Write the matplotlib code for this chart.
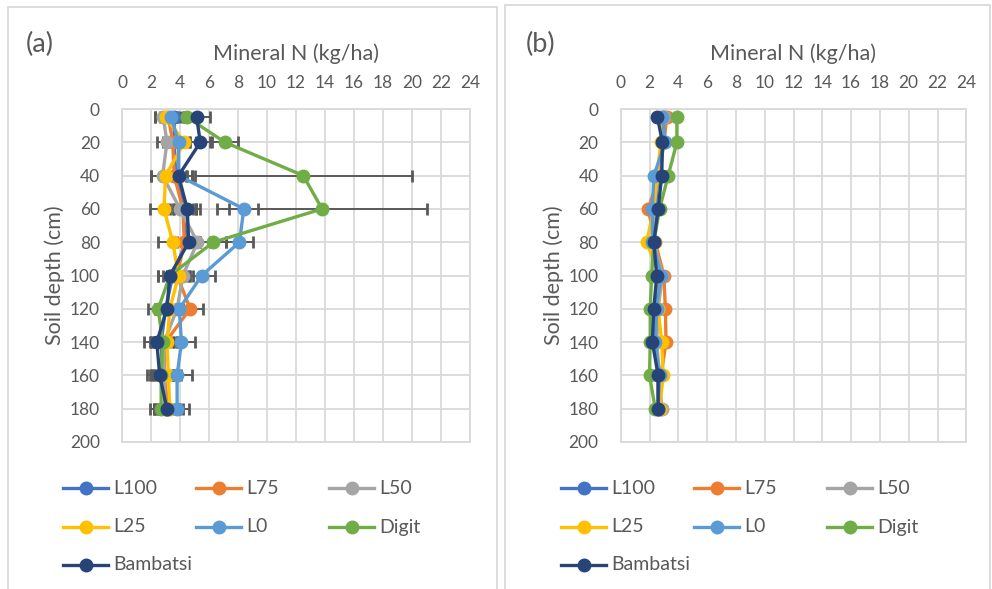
import matplotlib
matplotlib.use("Agg")
import matplotlib.pyplot as plt
from matplotlib.lines import Line2D
from matplotlib.patches import Rectangle

plt.rcParams["font.family"] = ["Lato", "DejaVu Sans"]

# Soil depths (cm) and treatments
depth = [5, 20, 40, 60, 80, 100, 120, 140, 160, 180]
series = ["L100", "L75", "L50", "L25", "L0", "Digit", "Bambatsi"]
colors = ["#4472C4", "#ED7D31", "#A5A5A5", "#FFC000", "#5B9BD5", "#70AD47", "#264478"]

# Panel (a): mineral N (kg/ha) and standard errors
a_L100 = [3.6, 3.6, 3.7, 4.3, 4.4, 3.5, 3.0, 2.7, 2.8, 3.0]
a_L75 = [3.2, 3.5, 3.6, 4.2, 4.3, 3.8, 4.7, 3.0, 2.9, 3.2]
a_L50 = [2.85, 3.1, 2.8, 4.0, 5.2, 4.2, 3.8, 2.9, 2.9, 3.0]
a_L25 = [3.0, 4.3, 3.0, 2.9, 3.5, 3.9, 3.3, 3.1, 3.2, 3.3]
a_L0 = [3.4, 3.9, 3.9, 8.4, 8.1, 5.5, 3.95, 4.1, 3.8, 3.8]
a_Digit = [4.5, 7.1, 12.5, 13.8, 6.3, 3.3, 2.5, 2.8, 2.7, 2.7]
a_Bambatsi = [5.15, 5.4, 3.9, 4.5, 4.6, 3.3, 3.1, 2.4, 2.6, 3.1]

e_L100 = [0.6, 0.6, 0.8, 0.8, 0.8, 0.7, 0.7, 0.8, 0.7, 0.7]
e_L75 = [0.6, 0.7, 0.8, 0.9, 0.8, 0.7, 0.9, 0.8, 0.7, 0.7]
e_L50 = [0.6, 0.7, 0.8, 0.9, 0.9, 0.7, 0.8, 0.9, 0.8, 0.8]
e_L25 = [0.7, 0.8, 1.0, 1.0, 1.0, 0.8, 0.9, 0.9, 0.9, 0.9]
e_L0 = [0.6, 0.7, 0.9, 1.0, 0.9, 0.9, 0.8, 0.9, 1.0, 0.8]
e_Digit = [0.7, 0.9, 7.5, 7.25, 0.9, 0.8, 0.7, 0.8, 0.8, 0.8]
e_Bambatsi = [0.9, 0.7, 0.9, 0.9, 0.8, 0.8, 0.8, 0.9, 0.9, 0.9]

# Panel (b): mineral N (kg/ha)
b_L100 = [3.0, 3.0, 2.6, 2.4, 2.3, 2.7, 2.5, 2.4, 2.6, 2.6]
b_L75 = [3.2, 3.0, 2.7, 1.9, 2.4, 3.0, 3.1, 3.15, 2.8, 2.7]
b_L50 = [3.0, 2.9, 2.6, 2.3, 2.3, 2.9, 2.6, 2.5, 2.7, 2.85]
b_L25 = [2.8, 2.8, 2.5, 2.3, 1.8, 2.7, 2.6, 2.85, 2.95, 2.7]
b_L0 = [2.9, 3.1, 2.3, 2.2, 2.2, 2.8, 2.5, 2.4, 2.7, 2.6]
b_Digit = [3.9, 3.9, 3.3, 2.7, 2.3, 2.15, 2.05, 2.05, 2.0, 2.4]
b_Bambatsi = [2.55, 2.9, 2.85, 2.6, 2.3, 2.5, 2.3, 2.2, 2.6, 2.6]

x_ticks = list(range(0, 25, 2))
y_ticks = list(range(0, 201, 20))

panel_a = [a_L100, a_L75, a_L50, a_L25, a_L0, a_Digit, a_Bambatsi]
errors_a = [e_L100, e_L75, e_L50, e_L25, e_L0, e_Digit, e_Bambatsi]
panel_b = [b_L100, b_L75, b_L50, b_L25, b_L0, b_Digit, b_Bambatsi]

W, H = 992, 589
fig = plt.figure(figsize=(W / 100, H / 100), dpi=100)
TXT = "#595959"
GRID = "#d9d9d9"


def fx(px):
    return px / W


def fy(py):
    return 1 - py / H


# panel frames
for x0, x1, y0 in [(8, 497, 7), (505, 990, 5)]:
    fig.patches.append(Rectangle((fx(x0), fy(600)), fx(x1) - fx(x0), fy(y0) - fy(600),
                                 transform=fig.transFigure, fill=False,
                                 edgecolor=GRID, linewidth=1.3, zorder=0))


def make_axes(left_px, right_px):
    ax = fig.add_axes([fx(left_px), fy(442), fx(right_px) - fx(left_px), fy(109) - fy(442)])
    ax.set_xlim(0, 24)
    ax.set_ylim(200, 0)
    ax.set_xticks(x_ticks)
    ax.set_yticks(y_ticks)
    ax.xaxis.tick_top()
    ax.xaxis.set_label_position("top")
    ax.tick_params(length=0, labelsize=12.5, labelcolor=TXT)
    ax.tick_params(axis="x", pad=13)
    ax.tick_params(axis="y", pad=16)
    ax.grid(True, color=GRID, linewidth=1.3)
    ax.set_axisbelow(True)
    for s in ax.spines.values():
        s.set_color(GRID)
        s.set_linewidth(1.3)
    ax.set_xlabel("Mineral N (kg/ha)", fontsize=15.5, color=TXT, labelpad=11)
    ax.set_ylabel("Soil depth (cm)", fontsize=15.5, color=TXT, labelpad=3)
    return ax


ax_a = make_axes(122, 470)
ax_b = make_axes(620.7, 966.3)

for vals, errs, c in zip(panel_a, errors_a, colors):
    ax_a.errorbar(vals, depth, xerr=errs, fmt="none", ecolor="#595959",
                  elinewidth=1.4, capsize=4.5, capthick=2.0, zorder=2)
for i, (vals, c) in enumerate(zip(panel_a, colors)):
    ax_a.plot(vals, depth, color=c, linewidth=2.4, marker="o", markersize=9,
              zorder=3 + i, clip_on=False)
for i, (vals, c) in enumerate(zip(panel_b, colors)):
    ax_b.plot(vals, depth, color=c, linewidth=2.4, marker="o", markersize=9,
              zorder=3 + i, clip_on=False)

fig.text(fx(26), fy(44), "(a)", fontsize=19.5, color=TXT, va="center", ha="left")
fig.text(fx(526), fy(44), "(b)", fontsize=19.5, color=TXT, va="center", ha="left")

# legends: three entries per row
rows_y = [488, 527, 565]
cols_x = [63, 196, 329]
for off in (0, 498):
    for k, (name, c) in enumerate(zip(series, colors)):
        r, col = divmod(k, 3)
        x0 = cols_x[col] + off
        y = fy(rows_y[r])
        fig.add_artist(Line2D([fx(x0), fx(x0 + 45)], [y, y], color=c, linewidth=2.4,
                              transform=fig.transFigure))
        fig.add_artist(Line2D([fx(x0 + 22.5)], [y], color=c, marker="o", markersize=9,
                              transform=fig.transFigure))
        fig.text(fx(x0 + 50), y, name, fontsize=14, color=TXT, va="center", ha="left")

fig.savefig("out.png", dpi=100)
